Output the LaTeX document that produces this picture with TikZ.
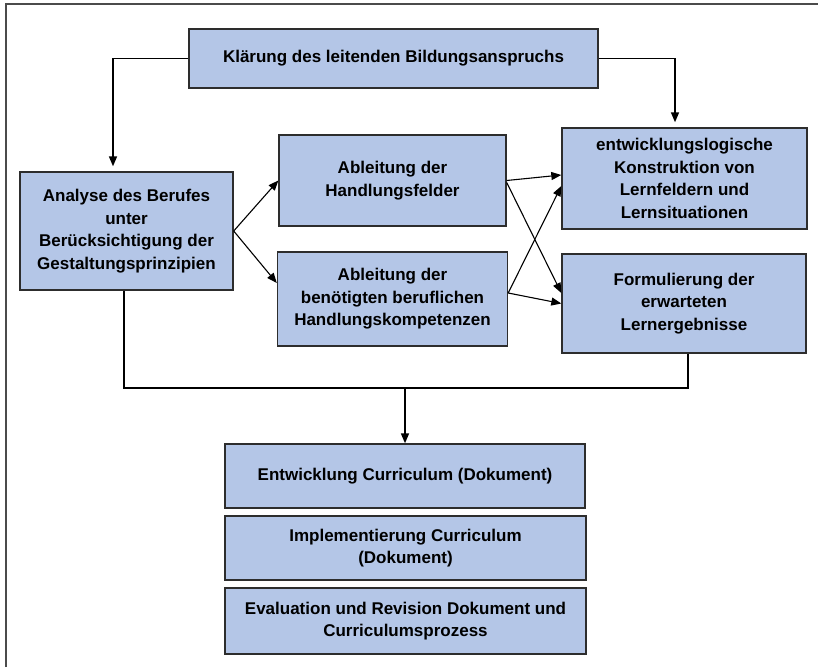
\documentclass[tikz,border=0pt]{standalone}
\usepackage{fontspec}
\setmainfont{Liberation Sans}
\usetikzlibrary{arrows.meta}
\definecolor{boxfill}{RGB}{180,198,231}
\definecolor{boxline}{RGB}{45,45,45}
\definecolor{framegray}{RGB}{75,75,75}
\tikzset{
  box/.style={draw=boxline, line width=1.4pt, fill=boxfill, align=center, inner sep=0pt,
    font=\fontsize{17}{22.5}\selectfont\bfseries},
  conn/.style={line width=1.6pt, -{Triangle[length=10pt,width=8pt]}},
  diag/.style={line width=1.1pt, -{Triangle[length=10pt,width=8pt]}},
  bus/.style={line width=1.8pt},
}
\begin{document}
\begin{tikzpicture}[x=1pt,y=-1pt]
\useasboundingbox (0,0) rectangle (818,669);
\draw[framegray, line width=1.8pt] (6,667) -- (6,4) -- (818,4);

\node[box, minimum width=409pt, minimum height=59pt] (top) at (393.5,58.5) {Klärung des leitenden Bildungsanspruchs};
\node[box, minimum width=213pt, minimum height=118pt] (an) at (126.5,231) {Analyse des Berufes\\unter\\Berücksichtigung der\\Gestaltungsprinzipien};
\node[box, minimum width=227pt, minimum height=91pt] (hf) at (392.5,180.5) {Ableitung der\\Handlungsfelder};
\node[box, minimum width=230pt, minimum height=94pt] (bk) at (392.5,299) {Ableitung der\\benötigten beruflichen\\Handlungskompetenzen};
\node[box, minimum width=245pt, minimum height=101pt] (el) at (684.5,178.5) {entwicklungslogische\\Konstruktion von\\Lernfeldern und\\Lernsituationen};
\node[box, minimum width=244pt, minimum height=99pt] (fo) at (684,303.5) {Formulierung der\\erwarteten\\Lernergebnisse};
\node[box, minimum width=360pt, minimum height=64pt] (ent) at (405,476) {Entwicklung Curriculum (Dokument)};
\node[box, minimum width=361pt, minimum height=64pt] (imp) at (405.5,548) {Implementierung Curriculum\\(Dokument)};
\node[box, minimum width=361pt, minimum height=66pt] (ev) at (405.5,621) {Evaluation und Revision Dokument und\\Curriculumsprozess};

\draw[conn, shorten >=5pt] (top.west) -| ([xshift=-13.5pt]an.north);
\draw[conn, shorten >=5pt] (top.east) -| ([xshift=-9.5pt]el.north);

\draw[diag] (an.east) -- (hf.west);
\draw[diag] (an.east) -- ([yshift=16pt]bk.west);
\draw[diag] (hf.east) -- ([yshift=3.5pt]el.west);
\draw[diag] ([yshift=-2pt]hf.east) -- ([yshift=10.5pt]fo.west);
\draw[diag] ([yshift=6pt]bk.east) -- ([yshift=-7.5pt]el.west);
\draw[diag] ([yshift=6pt]bk.east) -- (fo.west);

\coordinate (busmid) at (405,388);
\draw[bus] ([xshift=-2.5pt]an.south) |- (busmid) -| ([xshift=4pt]fo.south);
\draw[conn] (busmid) -- (ent.north);
\end{tikzpicture}
\end{document}
